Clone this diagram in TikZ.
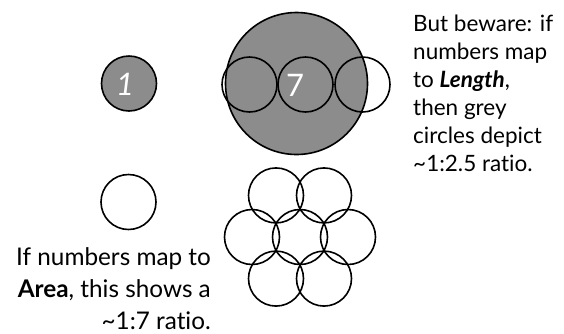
\documentclass[tikz,border=0pt]{standalone}
\usepackage{fontspec}
\setmainfont{Lato}[Ligatures=NoCommon]
\usetikzlibrary{positioning}
\definecolor{discgrey}{RGB}{140,140,140}

\begin{document}
\begin{tikzpicture}[
    x=1pt, y=-1pt,
    disc/.style = {shape=circle, draw, line width=1.6pt, minimum size=55pt, inner sep=0pt},
    greydisc/.style = {disc, fill=discgrey},
    bigdisc/.style = {greydisc, minimum size=142pt},
    numlabel/.style = {text=white, inner sep=0pt, font=\fontsize{31}{31}\selectfont},
    note/.style = {inner sep=0pt, font=\fontsize{22.5}{28}\selectfont}
  ]
  \useasboundingbox (0,0) rectangle (564,333);

  % top row: value 1 and value 7 as grey discs
  \node[greydisc] (one) at (129,83.5) {};
  \node[numlabel, font=\fontsize{31}{31}\selectfont\itshape] (onelabel) at (125,84) {1};
  \node[bigdisc] (seven) at (296.5,83.5) {};
  \foreach \i/\x in {1/249.5, 2/305.5, 3/362.5}
    \node[disc] (row\i) at (\x,84.5) {};
  \node[numlabel] (sevenlabel) at (295,85) {7};

  % bottom row: one unit disc and seven discs packed by area
  \node[disc] (unit) at (128.5,202) {};
  \node[disc] (flower0) at (300,237) {};
  \foreach \i in {1,...,6}
    \node[disc] (flower\i) at ([shift={(\i*60:48pt)}]flower0.center) {};

  % notes
  \node[note, anchor=north west, align=left] (lengthnote) at (413,15)
    {But beware: if\\numbers map\\to \textbf{\textit{Length}},\\then grey\\circles depict\\\textasciitilde 1:2.5 ratio.};
  \node[note, anchor=north east, align=right, font=\fontsize{24.3}{32}\selectfont] (areanote) at (211,247)
    {If numbers map to\\\textbf{Area}, this shows a\\\textasciitilde 1:7 ratio.};
\end{tikzpicture}
\end{document}
